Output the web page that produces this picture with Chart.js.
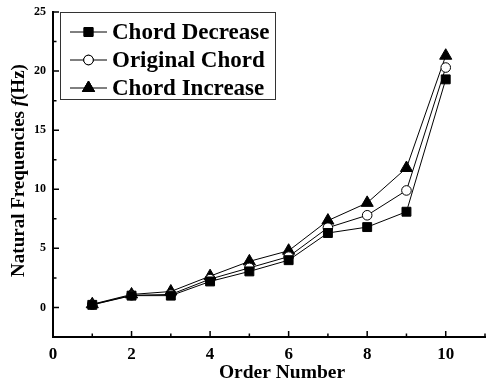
<!DOCTYPE html>
<html>
<head>
<meta charset="utf-8">
<script src="https://cdn.jsdelivr.net/npm/chart.js@4/dist/chart.umd.min.js"></script>
<style>
  html, body { margin: 0; padding: 0; background: #fff; }
  #wrap { width: 486px; height: 384px; position: relative; }
</style>
</head>
<body>
<div id="wrap"><canvas id="c"></canvas></div>
<script>
const orders = [1, 2, 3, 4, 5, 6, 7, 8, 9, 10];
const chordDecrease = [0.22, 1.0, 1.0, 2.2, 3.05, 4.0, 6.3, 6.8, 8.1, 19.3];
const originalChord = [0.24, 1.03, 1.1, 2.4, 3.35, 4.3, 6.75, 7.8, 9.9, 20.3];
const chordIncrease = [0.27, 1.1, 1.35, 2.65, 3.9, 4.8, 7.35, 8.85, 11.8, 21.3];
const seriesNames = ["Chord Decrease", "Original Chord", "Chord Increase"];
const xTicks = [0, 2, 4, 6, 8, 10];
const xMinor = [1, 3, 5, 7, 9, 11];
const yTicks = [0, 5, 10, 15, 20, 25];
const yMinor = [2.5, 7.5, 12.5, 17.5, 22.5];

const SERIF = "'Liberation Serif', 'DejaVu Serif', serif";
const toPts = (ys) => ys.map((y, i) => ({ x: orders[i], y }));

const styles = [
  { pointStyle: "rect", pointRadius: 6.3, pointBackgroundColor: "#000" },
  { pointStyle: "circle", pointRadius: 4.8, pointBackgroundColor: "#fff" },
  { pointStyle: "triangle", pointRadius: 7, pointBackgroundColor: "#000" },
];

const datasets = [chordDecrease, originalChord, chordIncrease].map((ys, i) => ({
  label: seriesNames[i],
  data: toPts(ys),
  borderColor: "#000",
  borderWidth: 1,
  pointBorderColor: "#000",
  pointBorderWidth: 1,
  ...styles[i],
}));

const decor = {
  id: "decor",
  afterDraw(chart) {
    const { ctx, chartArea: a, scales: { x, y } } = chart;
    ctx.save();
    ctx.strokeStyle = "#000";
    ctx.lineWidth = 1.5;
    ctx.beginPath();
    xTicks.forEach((v) => { const p = x.getPixelForValue(v); ctx.moveTo(p, a.bottom); ctx.lineTo(p, a.bottom - 6); });
    xMinor.forEach((v) => { const p = x.getPixelForValue(v); ctx.moveTo(p, a.bottom); ctx.lineTo(p, a.bottom - 3.5); });
    yTicks.forEach((v) => { const p = y.getPixelForValue(v); ctx.moveTo(a.left, p); ctx.lineTo(a.left + 6, p); });
    yMinor.forEach((v) => { const p = y.getPixelForValue(v); ctx.moveTo(a.left, p); ctx.lineTo(a.left + 3.5, p); });
    ctx.stroke();

    // x title
    ctx.fillStyle = "#000";
    ctx.font = "bold 19.5px " + SERIF;
    ctx.textAlign = "center";
    ctx.textBaseline = "alphabetic";
    ctx.fillText("Order Number", (a.left + a.right) / 2 + 13, 378);

    // y title with italic f
    ctx.textAlign = "left";
    ctx.translate(19.5, 170.5);
    ctx.rotate(-Math.PI / 2);
    ctx.textBaseline = "middle";
    const parts = [
      ["bold 19px " + SERIF, "Natural Frequencies "],
      ["italic bold 19px " + SERIF, "f"],
      ["bold 19px " + SERIF, "(Hz)"],
    ];
    let w = 0;
    parts.forEach(([f, t]) => { ctx.font = f; w += ctx.measureText(t).width; });
    let cx = -w / 2;
    parts.forEach(([f, t]) => { ctx.font = f; ctx.fillText(t, cx, 0); cx += ctx.measureText(t).width; });
    ctx.restore();

    // legend
    ctx.save();
    const lx = 60.5, ly = 12.5, lw = 215, lh = 87;
    ctx.strokeStyle = "#333";
    ctx.lineWidth = 1;
    ctx.strokeRect(lx, ly, lw, lh);
    ctx.font = "bold 23px " + SERIF;
    ctx.textBaseline = "middle";
    chart.data.datasets.forEach((ds, i) => {
      const ry = 32 + i * 28;
      ctx.beginPath();
      ctx.strokeStyle = "#000";
      ctx.lineWidth = 1;
      ctx.moveTo(70, ry); ctx.lineTo(107, ry);
      ctx.stroke();
      Chart.helpers.drawPoint(ctx, {
        pointStyle: ds.pointStyle, radius: ds.pointRadius, borderWidth: 1, rotation: 0,
      }, 88.5, ry);
      ctx.fillStyle = ds.pointBackgroundColor;
      ctx.fill();
      ctx.stroke();
      ctx.fillStyle = "#000";
      ctx.fillText(ds.label, 112, ry + 1);
    });
    ctx.restore();
  },
};

new Chart(document.getElementById("c"), {
  type: "line",
  data: { datasets },
  options: {
    responsive: true,
    maintainAspectRatio: false,
    animation: false,
    layout: { autoPadding: false, padding: { top: 12, right: 1, left: 0, bottom: 0 } },
    plugins: { legend: { display: false }, tooltip: { enabled: false } },
    scales: {
      x: {
        type: "linear",
        min: 0,
        max: 11,
        afterBuildTicks: (s) => { s.ticks = xTicks.map((v) => ({ value: v })); },
        afterFit: (s) => { s.height = 47; s.paddingLeft = 0; s.paddingRight = 0; },
        grid: { display: false, drawTicks: false },
        border: { display: true, color: "#000", width: 2 },
        ticks: { color: "#000", padding: 7, maxRotation: 0, font: { family: SERIF, size: 17, weight: "bold" } },
      },
      y: {
        type: "linear",
        min: -2.5,
        max: 25,
        afterBuildTicks: (s) => { s.ticks = yTicks.map((v) => ({ value: v })); },
        afterFit: (s) => { s.width = 53; s.paddingTop = 0; s.paddingBottom = 0; },
        grid: { display: false, drawTicks: false },
        border: { display: true, color: "#000", width: 2 },
        ticks: { color: "#000", padding: 7, font: { family: SERIF, size: 12, weight: "bold" } },
      },
    },
  },
  plugins: [decor],
});
</script>
</body>
</html>
